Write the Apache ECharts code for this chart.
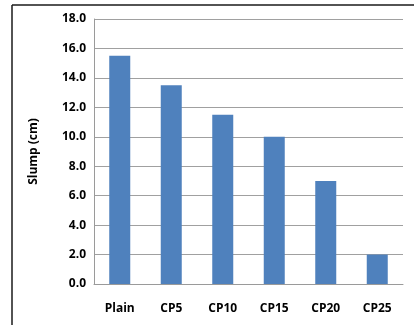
<!DOCTYPE html>
<html>
<head>
<meta charset="utf-8">
<script src="https://cdn.jsdelivr.net/npm/echarts@6/dist/echarts.min.js"></script>
<style>
html,body{margin:0;padding:0;background:#fff;}
#chart{width:414px;height:325px;}
</style>
</head>
<body>
<div id="chart"></div>
<script>
// Slump of plain and CP mixes
const categories = ['Plain', 'CP5', 'CP10', 'CP15', 'CP20', 'CP25'];
const slump = [15.5, 13.5, 11.5, 10.0, 7.0, 2.0];
const yTicks = { min: 0, max: 18, interval: 2 };

const chart = echarts.init(document.getElementById('chart'));
const font = 'Open Sans, Liberation Sans, sans-serif';
chart.setOption({
  animation: false,
  backgroundColor: '#fff',
  grid: { left: 94, right: 11, top: 19, bottom: 41 },
  xAxis: {
    type: 'category',
    data: categories,
    axisLine: { show: true, lineStyle: { color: '#9a9a9a', width: 1 } },
    axisTick: { show: false },
    axisLabel: { color: '#000', fontWeight: 'bold', fontSize: 12, fontFamily: font, margin: 19 }
  },
  yAxis: {
    type: 'value',
    min: yTicks.min, max: yTicks.max, interval: yTicks.interval,
    name: 'Slump (cm)',
    nameLocation: 'middle',
    nameGap: 54,
    nameTextStyle: { color: '#000', fontWeight: 'bold', fontSize: 12, fontFamily: font },
    axisLine: { show: true, lineStyle: { color: '#9a9a9a', width: 1 } },
    axisTick: { show: false },
    axisLabel: {
      color: '#000', fontWeight: 'bold', fontSize: 12, fontFamily: font, margin: 8,
      formatter: v => v.toFixed(1)
    },
    splitLine: { show: true, lineStyle: { color: '#a0a0a0', width: 1 } }
  },
  series: [{
    type: 'bar',
    data: slump,
    barWidth: 21,
    itemStyle: { color: '#4f81bd' }
  }],
  graphic: [
    { type: 'line', shape: { x1: 12, y1: 5, x2: 414, y2: 5 }, style: { stroke: '#1a1a1a', lineWidth: 1.5 } },
    { type: 'line', shape: { x1: 12, y1: 5, x2: 12, y2: 325 }, style: { stroke: '#1a1a1a', lineWidth: 1.5 } }
  ]
});
</script>
</body>
</html>
